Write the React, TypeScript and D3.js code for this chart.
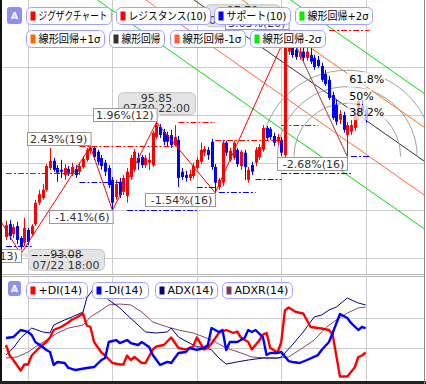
import React from 'react';
import * as d3 from 'd3';

const W = 426;
const H = 384;

// ---- candles (4h bars) ----
const opens = [93.44,93.71,93.50,93.67,93.42,93.32,93.59,93.50,93.71,94.16,
94.26,94.43,94.89,95.04,94.89,94.85,94.74,94.87,94.76,94.87,
94.81,94.91,95.06,95.25,95.31,95.23,95.10,95.00,94.89,94.64,
94.28,94.60,94.39,94.30,94.70,94.85,95.10,95.12,94.95,95.00,
94.95,95.54,95.75,95.65,95.58,95.58,95.37,95.48,94.81,94.74,
94.68,94.72,94.89,95.02,95.21,95.27,95.44,94.91,94.49,94.58,
95.42,95.06,95.10,95.27,94.93,95.21,94.64,94.95,95.00,95.12,
95.27,95.73,95.71,95.56,95.44,95.48,95.16,97.33,97.54,97.37,
97.22,97.33,97.20,97.26,97.20,97.16,97.03,96.86,96.74,96.42,
96.21,95.90,96.00,95.58,95.65,95.73,95.96,96.19,96.11];
const closes = [93.69,93.46,93.65,93.38,93.25,93.63,93.34,93.67,94.16,94.34,
94.43,94.93,95.04,94.85,94.79,94.81,94.89,94.79,94.91,94.74,
94.93,95.08,95.27,95.31,95.12,95.02,94.93,94.81,94.53,94.16,
94.55,94.32,94.68,94.81,95.10,95.23,95.00,94.95,95.10,95.06,
95.63,95.79,95.58,95.44,95.44,95.37,95.54,94.68,94.70,94.68,
94.76,94.93,95.06,95.27,95.29,95.16,94.91,94.58,94.64,95.42,
95.21,95.25,95.42,94.97,95.23,94.91,94.85,94.81,95.27,95.33,
95.73,95.52,95.54,95.42,95.54,95.21,97.54,97.58,97.26,97.22,
97.33,97.20,97.33,97.12,97.01,97.03,96.74,96.65,96.36,95.94,
95.86,96.02,95.69,95.79,95.79,96.00,96.30,96.05,95.90];
const highs = [93.78,93.80,93.71,93.76,93.46,93.84,93.63,93.71,94.22,94.43,
94.55,94.97,95.31,95.10,94.95,95.06,94.97,94.93,95.00,94.95,
95.00,95.14,95.31,95.34,95.33,95.27,95.16,95.06,94.95,94.70,
94.64,94.68,94.74,94.89,95.16,95.29,95.21,95.16,95.16,95.21,
95.67,95.85,95.81,95.71,95.65,95.69,95.79,95.56,94.89,94.83,
94.85,95.00,95.12,95.42,95.35,95.33,95.50,94.97,94.68,95.48,
95.46,95.31,95.46,95.31,95.27,95.27,94.91,95.02,95.33,95.39,
95.79,95.77,95.75,95.63,95.60,95.54,97.62,97.79,97.62,97.45,
97.41,97.41,97.45,97.43,97.26,97.24,97.10,96.95,96.82,96.49,
96.32,96.11,96.07,95.86,95.90,96.11,96.36,96.32,96.19];
const lows = [93.38,93.38,93.42,93.29,93.08,93.25,93.27,93.46,93.67,94.11,
94.22,94.39,94.85,94.81,94.60,94.68,94.64,94.72,94.72,94.68,
94.74,94.87,95.02,95.18,95.06,94.95,94.85,94.72,94.47,94.00,
94.22,94.26,94.32,94.16,94.64,94.81,94.85,94.89,94.89,94.85,
94.91,95.50,95.52,95.37,95.35,95.31,95.35,94.49,94.64,94.60,
94.62,94.66,94.85,94.97,95.14,95.06,94.85,94.37,94.43,94.51,
95.14,95.02,95.06,94.91,94.85,94.64,94.58,94.74,94.93,95.06,
95.23,95.48,95.48,95.35,95.37,95.14,95.12,97.26,97.20,97.16,
97.16,97.12,97.14,97.07,96.95,96.99,96.70,96.61,96.32,95.90,
95.79,95.81,95.63,95.13,95.58,95.67,95.90,95.98,95.84];

// ---- grid ----
const gridIdx = [6, 29, 52, 75, 98];
const gridPrices = [93, 94, 95, 96, 97];
const gridDI = [20, 40];

// ---- zigzag ----
const zzIdx = [-9, 4, 23, 29, 41, 57, 77, 93];
const zzPrice = [94.74, 93.08, 95.34, 94.00, 95.85, 94.37, 97.79, 95.13];
const zzLabels = ['-1.75%(13)', '2.43%(19)', '-1.41%(6)', '1.96%(12)', '-1.54%(16)', '3.63%(20)', '-2.68%(16)'];

// ---- price bubbles ----
const bubIdx = [4, 41, 77];
const bubPrice = ['93.08', '95.85', '97.79'];
const bubDate = ['07/22 18:00', '07/30 22:00', '08/05 22:00'];
const bubSide = ['right', 'above', 'left'];

// ---- resistance / support (10) ----
const resFrom = [0, 20, 47, 57, 75, 88];
const resTo = [20, 47, 57, 75, 85, 99];
const resLevel = [94.78, 95.35, 95.85, 95.48, 95.79, 97.78];
const supFrom = [0, 7, 20, 33, 52, 58, 68, 75, 94];
const supTo = [7, 21, 33, 52, 57, 68, 75, 94, 99];
const supLevel = [93.25, 93.06, 94.59, 94.00, 94.49, 94.38, 94.66, 94.78, 95.14];

// ---- linear regression channel ----
const regIdx = [0, 114];
const regMid = [101.18, 95.03];
const regSigma = 0.71;
const regBands = [2, 1, 0, -1, -2];
const regColors = ['#00e000', '#ff6a00', '#333333', '#ff6a3a', '#00e000'];

// ---- fibonacci arcs ----
const fibRatios = [0.618, 0.5, 0.382];
const fibLabels = ['61.8%', '50%', '38.2%'];

// ---- DMI ----
const plusDI: [number, number][] = [[0,22],[1,15],[2,12],[4,5],[5,9],[6,9],[7,15],[9,20],[11,24],[12,27],[13,32],[15,34],[17,37],[18,39],[19,40],[21,43],[22,35],[23,34],[24,24],[26,17],[27,15],[29,10],[31,9],[32,9],[33,15],[34,12],[35,14],[37,10],[38,10],[40,19],[41,21],[43,22],[45,27],[47,20],[49,19],[51,21],[52,27],[54,19],[55,20],[56,23],[58,30],[60,32],[62,30],[63,31],[64,27],[66,24],[67,19],[69,25],[70,29],[71,30],[72,20],[74,17],[75,24],[76,45],[77,47],[79,44],[81,43],[83,34],[86,33],[88,32],[89,29],[91,1],[93,1],[95,7],[96,14],[97,15],[98,17]];
const minusDI: [number, number][] = [[0,26.7],[2,27.3],[4,32],[6,30.7],[7,28.7],[8,24],[10,20.7],[11,18.7],[12,17.3],[13,8.7],[14,10.7],[16,10],[17,6.7],[19,5.3],[22,6.7],[24,7.3],[26,12],[27,13.3],[28,24],[30,25.3],[31,23.3],[33,25.3],[34,23.3],[36,22],[37,24],[39,20.7],[40,15.3],[42,8.7],[44,10.7],[45,10],[47,16.7],[49,17.3],[50,20],[52,18.7],[54,20],[55,22],[56,33.3],[58,30.7],[59,32],[60,18.7],[61,24],[63,24],[65,26.7],[66,32],[67,30.7],[68,32],[70,27.3],[71,15.3],[72,16.7],[74,16.7],[75,17.3],[77,11.3],[78,10.7],[80,10],[82,12],[85,15.3],[86,18.7],[88,24],[89,30],[91,42.7],[93,40],[94,36.7],[96,32],[97,34],[98,33.3]];
const adx: [number, number][] = [[0,15.3],[2,20],[4,26.7],[7,33.3],[10,30.7],[12,30],[13,35.3],[16,38.7],[18,40.7],[21,44],[22,53.3],[24,60],[26,56.7],[28,52],[31,46.7],[33,42],[36,35.3],[38,30.7],[41,30],[44,30.7],[45,33.3],[47,27.3],[50,23.3],[52,20.7],[54,20.7],[56,18.7],[58,13.3],[60,9.3],[63,10.7],[66,12],[70,13.3],[74,13.3],[75,14],[78,22],[81,30.7],[84,40.7],[86,42],[88,45.3],[90,47.3],[93,53.3],[96,50],[98,48.7]];
const adxr: [number, number][] = [[0,13.3],[3,14],[6,17.3],[8,20.7],[11,25.3],[14,30],[17,33.3],[21,35.3],[23,40.7],[26,45.3],[28,48.7],[31,49.3],[34,48.7],[37,44],[40,37.3],[44,34],[47,32],[51,30],[54,27.3],[56,25.3],[60,20],[64,16.7],[67,14],[71,13.3],[74,13.3],[77,14],[80,18.7],[84,25.3],[87,33.3],[90,38.7],[93,43.3],[96,46.7],[98,47.3]];

// ---- legends ----
const legend1 = ['ジグザクチャート', 'レジスタンス(10)', 'サポート(10)', '線形回帰+2σ'];
const legend1Colors = ['#ff0000', '#ff0000', '#0000ff', '#00ee00'];
const legend2 = ['線形回帰+1σ', '線形回帰', '線形回帰-1σ', '線形回帰-2σ'];
const legend2Colors = ['#ff6a00', '#333333', '#ff5a3a', '#00ee00'];
const legend3 = ['+DI(14)', '-DI(14)', 'ADX(14)', 'ADXR(14)'];
const legend3Colors = ['#ff0000', '#0000ff', '#000080', '#883366'];

const FONT = "'DejaVu Sans', 'Noto Sans CJK JP', sans-serif";

export default function App() {
  const xs = d3.scaleLinear().domain([0, 98]).range([6, 365.66]);
  const ys = d3.scaleLinear().domain([93, 98]).range([258, 19.75]);
  const yd = d3.scaleLinear().domain([0, 60]).range([378, 288]);

  const MT = 0, MB = 274, PL = 2, PR = 424;
  const LT = 277, LB = 381;

  const zzPts = zzIdx.map((d, k) => [xs(d), ys(zzPrice[k])] as [number, number]);
  const zzLine = d3.line()(zzPts.slice(0, 7)) || '';

  const regLine = (b: number) => {
    const a = regMid[0] + b * regSigma;
    const c = regMid[1] + b * regSigma;
    return d3.line()([[xs(regIdx[0]), ys(a)], [xs(regIdx[1]), ys(c)]]) || '';
  };

  const [px3, py3] = zzPts[6];
  const [cx, cy] = zzPts[7];
  const R = Math.hypot(px3 - cx, py3 - cy);

  const diLine = (data: [number, number][]) =>
    d3.line<[number, number]>().x((d) => xs(d[0])).y((d) => yd(d[1]))(data) || '';

  const labelW = (s: string) => s.length * 6.4 + 6;

  const legendRow = (items: string[], colors: string[], xsL: number[], ws: number[], y: number, h: number, fit: boolean) =>
    items.map((t, k) => (
      <g key={t}>
        <rect x={xsL[k] + 0.5} y={y + 0.5} width={ws[k]} height={h} rx={5} fill="#fff" stroke="#a0a0ff" />
        <rect x={xsL[k] + 4.5} y={y + 4.5} width={5} height={h - 8} fill={colors[k]} />
        {fit ? (
          <text x={xsL[k] + 12.5} y={y + h - 4} fontSize={11} fontFamily={FONT} fill="#000"
            textLength={ws[k] - 16} lengthAdjust="spacingAndGlyphs">{t}</text>
        ) : (
          <text x={xsL[k] + 12.5} y={y + h - 4} fontSize={11} fontFamily={FONT} fill="#000">{t}</text>
        )}
      </g>
    ));

  const aButton = (x: number, y: number, w: number, h: number) => (
    <g>
      <rect x={x} y={y} width={w} height={h} rx={3} fill="#8c90ee" />
      <text x={x + w / 2} y={y + h / 2 + 3.5} textAnchor="middle" fontSize={9} fontWeight="bold"
        fontFamily="'DejaVu Sans'" fill="#fff">A</text>
    </g>
  );

  return (
    <div style={{ position: 'absolute', left: 0, top: 0 }}>
      <svg width={W} height={H} style={{ display: 'block' }}>
        <defs>
          <clipPath id="mainClip"><rect x={PL} y={MT} width={PR - PL} height={MB - MT} /></clipPath>
          <clipPath id="lowClip"><rect x={PL} y={LT} width={PR - PL} height={LB - LT} /></clipPath>
        </defs>
        <rect x={0} y={0} width={W} height={H} fill="#fff" />

        {/* main grid */}
        <g stroke="#cccccc" strokeWidth={1}>
          {gridIdx.map((g) => (
            <line key={'gv' + g} x1={Math.round(xs(g)) + 0.5} x2={Math.round(xs(g)) + 0.5} y1={MT} y2={MB} />
          ))}
          {gridPrices.map((p) => (
            <line key={'gh' + p} x1={PL} x2={PR} y1={Math.round(ys(p)) + 0.5} y2={Math.round(ys(p)) + 0.5} />
          ))}
        </g>

        <g clipPath="url(#mainClip)">
          {regBands.map((b, k) => (
            <path key={'reg' + b} d={regLine(b)} stroke={regColors[k]} strokeWidth={1} fill="none" />
          ))}

          {fibRatios.map((r) => (
            <path key={'arc' + r} d={`M${cx - R * r},${cy} A${R * r},${R * r} 0 0 1 ${cx + R * r},${cy}`}
              fill="none" stroke="#a0a0a0" strokeWidth={1} />
          ))}

          {opens.map((o, i) => {
            const c = closes[i];
            const up = c >= o;
            const col = up ? '#ff0000' : '#0000ff';
            const x = Math.round(xs(i));
            const yTop = ys(Math.max(o, c));
            const yBot = ys(Math.min(o, c));
            return (
              <g key={'c' + i}>
                <line x1={x + 0.5} x2={x + 0.5} y1={ys(highs[i])} y2={ys(lows[i])} stroke={col} strokeWidth={1} />
                <rect x={x - 1} y={yTop} width={3} height={Math.max(1, yBot - yTop)} fill={col} />
              </g>
            );
          })}

          {fibRatios.map((r, k) => {
            const top = cy - R * r;
            return (
              <g key={'fl' + r}>
                <rect x={cx} y={top + 2} width={fibLabels[k].length * 6.8 + 4} height={15} fill="#fff" fillOpacity={0.72} />
                <text x={cx + 2} y={top + 13} fontSize={11} fontFamily={FONT} fill="#000">{fibLabels[k]}</text>
              </g>
            );
          })}

          <path d={zzLine} stroke="#ff0000" strokeWidth={1} fill="none" />
          <line x1={px3} y1={py3} x2={cx} y2={cy} stroke="#ff2020" strokeWidth={1} />
          <line x1={px3} y1={py3} x2={cx} y2={cy} stroke="#808080" strokeOpacity={0.7} strokeWidth={1} />

          {bubIdx.map((bi, k) => {
            const px = xs(bi);
            const k2 = zzIdx.indexOf(bi);
            const py = ys(zzPrice[k2]);
            let bx = 0, by = 0, bw = 77, bh = 22, tail = '';
            if (bubSide[k] === 'above') {
              bx = px - bw / 2; by = py - 30;
              tail = `M${px - 4},${by + bh - 1} L${px},${py - 1} L${px + 4},${by + bh - 1}Z`;
            } else if (bubSide[k] === 'right') {
              bw = 76; bh = 21; bx = px + 7.3; by = py - 5.3;
              tail = `M${bx + 1},${by + 3} L${px},${py} L${bx + 1},${by + 10}Z`;
            } else {
              bw = 75; bx = px - 83.6; by = py - 25.5;
              tail = `M${bx + bw - 1},${by + 8} L${px},${py} L${bx + bw - 1},${by + 16}Z`;
            }
            return (
              <g key={'bub' + k}>
                <rect x={bx + 0.5} y={by + 0.5} width={bw} height={bh} rx={5} fill="#e4e4e4" stroke="#c4c4c4" />
                <path d={tail} fill="#e4e4e4" />
                <text x={bx + bw / 2} y={by + 9.5} textAnchor="middle" fontSize={11} fontFamily={FONT} fill="#333">{bubPrice[k]}</text>
                <text x={bx + bw / 2} y={by + 20} textAnchor="middle" fontSize={11} fontFamily={FONT} fill="#333">{bubDate[k]}</text>
              </g>
            );
          })}

          {zzLabels.map((t, k) => {
            const [x, y] = zzPts[k + 1];
            const isPeak = zzPrice[k + 1] > zzPrice[k];
            const w = labelW(t);
            const bx = x - w;
            const by = isPeak ? y - 14 : (k === 0 ? y - 5 : y);
            return (
              <g key={'zl' + k}>
                <rect x={Math.round(bx) + 0.5} y={Math.round(by) + 0.5} width={w} height={13} fill="#fff" stroke="#999" />
                <text x={bx + w - 3} y={by + 11} textAnchor="end" fontSize={11} fontFamily={FONT} fill="#333">{t}</text>
              </g>
            );
          })}

          {resLevel.map((p, k) => (
            <line key={'r' + k} x1={xs(resFrom[k])} x2={xs(resTo[k])} y1={Math.round(ys(p)) + 0.5} y2={Math.round(ys(p)) + 0.5}
              stroke="#ff0000" strokeWidth={1} strokeDasharray="6,2,2,2" />
          ))}
          {supLevel.map((p, k) => (
            <line key={'s' + k} x1={xs(supFrom[k])} x2={xs(supTo[k])} y1={Math.round(ys(p)) + 0.5} y2={Math.round(ys(p)) + 0.5}
              stroke="#0000ff" strokeWidth={1} strokeDasharray="6,2,2,2" />
          ))}
        </g>

        {aButton(7, 7, 15, 17)}
        {legendRow(legend1, legend1Colors, [26, 116, 214, 295], [85, 94, 76, 77], 7, 17, true)}
        {legendRow(legend2, legend2Colors, [26, 109, 170, 250], [78, 55, 75, 75], 30, 17, true)}

        <line x1={PL} x2={PR} y1={MB + 0.5} y2={MB + 0.5} stroke="#bbbbbb" />

        <g stroke="#cccccc" strokeWidth={1}>
          {gridIdx.map((g) => (
            <line key={'lv' + g} x1={Math.round(xs(g)) + 0.5} x2={Math.round(xs(g)) + 0.5} y1={LT} y2={LB} />
          ))}
          {gridDI.map((v) => (
            <line key={'lh' + v} x1={PL} x2={PR} y1={Math.round(yd(v)) + 0.5} y2={Math.round(yd(v)) + 0.5} />
          ))}
        </g>
        <line x1={PL} x2={PR} y1={LT - 0.5} y2={LT - 0.5} stroke="#bbbbbb" />
        <g clipPath="url(#lowClip)" fill="none">
          <path d={diLine(adxr)} stroke="#884477" strokeWidth={1} />
          <path d={diLine(adx)} stroke="#000080" strokeWidth={1} />
          <path d={diLine(plusDI)} stroke="#ff0000" strokeWidth={2.4} strokeLinejoin="round" />
          <path d={diLine(minusDI)} stroke="#0000ff" strokeWidth={2.4} strokeLinejoin="round" />
        </g>
        {aButton(8, 281, 13, 15)}
        {legendRow(legend3, legend3Colors, [26, 92, 155, 222], [61, 56, 62, 70], 282, 16, false)}

        <rect x={0} y={0} width={2} height={H} fill="#111" />
        <rect x={0} y={381} width={W} height={3} fill="#222" />
        <line x1={424.5} x2={424.5} y1={0} y2={H} stroke="#888" />
      </svg>
    </div>
  );
}
